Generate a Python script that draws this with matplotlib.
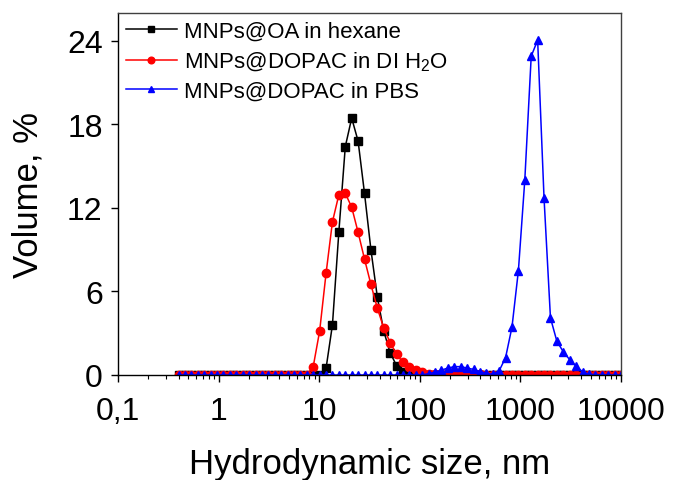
import matplotlib
matplotlib.use('Agg')
import matplotlib.pyplot as plt

plt.rcParams['font.family'] = ['Liberation Sans', 'DejaVu Sans']
plt.rcParams['mathtext.fontset'] = 'custom'
plt.rcParams['mathtext.rm'] = 'Liberation Sans'
plt.rcParams['mathtext.it'] = 'Liberation Sans'
plt.rcParams['mathtext.default'] = 'regular'

# size bins, nm
size = [0.4, 0.4632, 0.5365, 0.6213, 0.7195, 0.8332, 0.9649, 1.117, 1.294, 1.499,
        1.736, 2.01, 2.328, 2.696, 3.122, 3.615, 4.187, 4.849, 5.615, 6.503,
        7.531, 8.721, 10.1, 11.7, 13.54, 15.69, 18.17, 21.04, 24.36, 28.21,
        32.67, 37.84, 43.82, 50.75, 58.77, 68.06, 78.82, 91.28, 105.7, 122.4,
        141.8, 164.2, 190.1, 220.2, 255, 295.3, 342, 396.1, 458.7, 531.2,
        615.1, 712.4, 825, 955.4, 1106, 1281, 1484, 1718, 1990, 2305,
        2669, 3091, 3580, 4145, 4801, 5560, 6439, 7456, 8635, 10000]

# MNPs@OA in hexane
oa_hexane = [0]*23 + [0.48, 3.6, 10.3, 16.4, 18.45, 16.8, 13.05, 9.0, 5.6, 3.15,
                      1.6, 0.67, 0.24] + [0]*34

# MNPs@DOPAC in DI water
dopac_water = [0]*21 + [0.6, 3.15, 7.3, 11.0, 12.95, 13.05, 12.05, 10.25, 8.33,
                        6.5, 4.8, 3.38, 2.32, 1.49, 0.91, 0.55, 0.36, 0.2, 0.1,
                        0.05, 0.05, 0.15, 0.2, 0.2, 0.15, 0.1, 0.05] + [0]*22

# MNPs@DOPAC in PBS
dopac_pbs = [0]*39 + [0.1, 0.2, 0.35, 0.5, 0.6, 0.6, 0.5, 0.4, 0.25, 0.12, 0.05,
                      0.3, 1.25, 3.45, 7.5, 14.0, 22.9, 24.05, 12.7, 4.1, 2.42,
                      1.67, 1.1, 0.62, 0.24, 0.05, 0.02, 0.02, 0, 0, 0]

xticks = [0.1, 1, 10, 100, 1000, 10000]
xticklabels = ['0,1', '1', '10', '100', '1000', '10000']
yticks = [0, 6, 12, 18, 24]

fig = plt.figure(figsize=(6.75, 4.81), dpi=100)
ax = fig.add_axes([0.1748, 0.2183, 0.7452, 0.7526])

ax.plot(size, oa_hexane, color='k', marker='s', markersize=5.2, linewidth=1.1,
        label='MNPs@OA in hexane')
ax.plot(size, dopac_water, color='red', marker='o', markersize=6, linewidth=1.1,
        label='MNPs@DOPAC in DI H$_2$O')
ax.plot(size, dopac_pbs, color='blue', marker='^', markersize=6, linewidth=1.1,
        label='MNPs@DOPAC in PBS')

ax.set_xscale('log')
ax.set_xlim(0.1, 10000)
ax.set_ylim(0, 26)
ax.set_xticks(xticks)
ax.set_xticklabels(xticklabels)
ax.set_yticks(yticks)
ax.tick_params(axis='both', which='major', direction='out', length=5, width=1,
               labelsize=23)
ax.tick_params(axis='x', which='major', pad=10)
ax.tick_params(axis='y', which='major', pad=6)
ax.tick_params(axis='x', which='minor', direction='out', length=3, width=0.8)

for side in ['top', 'right']:
    ax.spines[side].set_color('#404040')
for side in ax.spines:
    ax.spines[side].set_linewidth(1.0)

ax.set_xlabel('Hydrodynamic size, nm', fontsize=25, labelpad=15)
ax.set_ylabel('Volume, %', fontsize=25, labelpad=16)

ax.legend(loc='upper left', frameon=False, fontsize=16, handlelength=2.3,
          handletextpad=0.3, labelspacing=0.36, markerscale=0.8,
          borderaxespad=0.15, borderpad=0.2)

fig.savefig('out.png', dpi=100)
